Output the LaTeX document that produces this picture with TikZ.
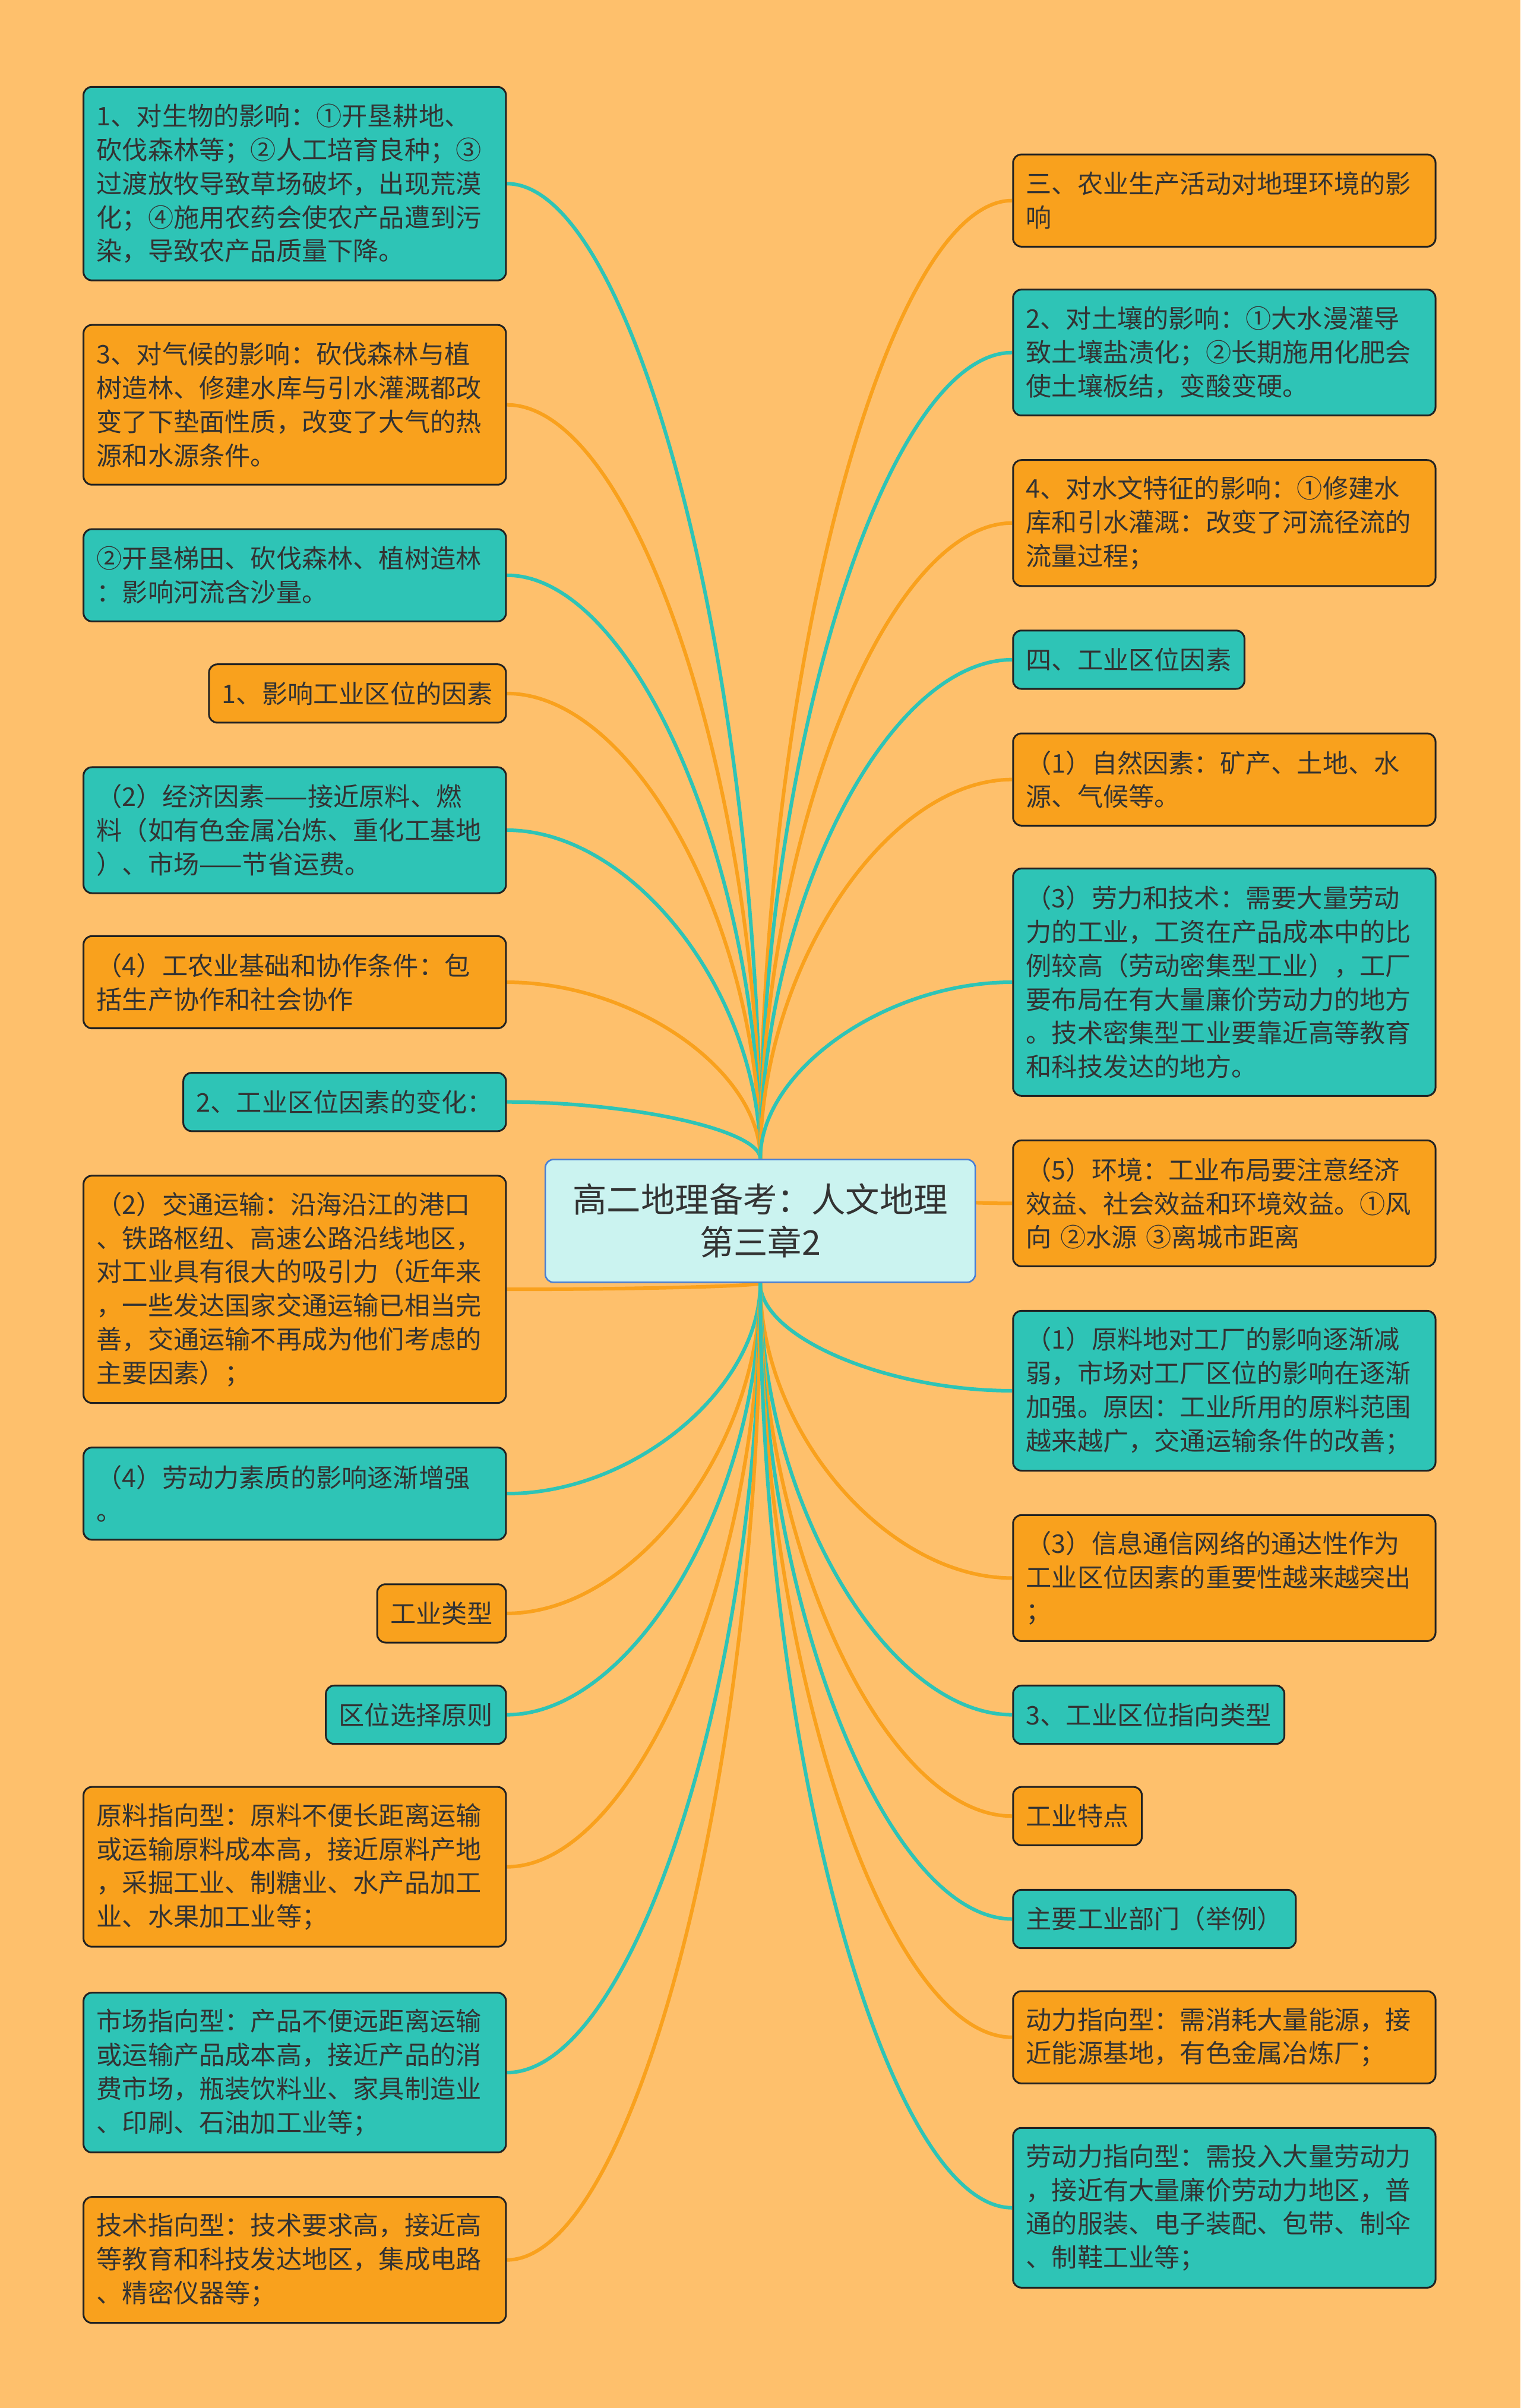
\documentclass[tikz,border=0pt]{standalone}
\usepackage{fontspec}
\setmainfont{Noto Sans CJK SC}
\usetikzlibrary{calc}
\definecolor{bgc}{HTML}{FEC06C}
\definecolor{orgc}{HTML}{F9A11D}
\definecolor{tealc}{HTML}{2EC4B6}
\definecolor{bordc}{HTML}{222222}
\definecolor{txtc}{HTML}{333333}
\definecolor{cfill}{HTML}{CBF3F0}
\definecolor{cbord}{HTML}{4A7FD4}
\pgfdeclarelayer{bg}
\pgfsetlayers{bg,main}
\setlength{\parindent}{0pt}
\begin{document}
\begin{tikzpicture}[x=1.2929pt,y=-1.2929pt,
  box/.style={draw=bordc, line width=1.5pt, rounded corners=7pt, inner xsep=11pt, inner ysep=1pt,
    font=\fontsize{21.6pt}{28.4pt}\selectfont, text=txtc, align=left},
  tbox/.style={box, fill=tealc},
  obox/.style={box, fill=orgc},
  wide/.style={text width=333.6pt},
  lft/.style={anchor=north east},
  rgt/.style={anchor=north west},
  hA/.style={minimum height=49.1pt},
  hB/.style={minimum height=77.6pt},
  hC/.style={minimum height=106.0pt},
  hD/.style={minimum height=134.5pt},
  hE/.style={minimum height=162.9pt},
  hF/.style={minimum height=191.3pt},
  cbox/.style={draw=cbord, fill=cfill, line width=1.3pt, rounded corners=7pt,
    minimum width=362pt, minimum height=103.4pt, align=center, text=txtc,
    font=\fontsize{28.7pt}{36pt}\selectfont},
  conn/.style={line width=3pt}
]
\useasboundingbox (0,0) rectangle (990,1568);

% centre
\node[cbox] (c) at (495,795) {高二地理备考：人文地理\\第三章2};

% left column
\node[tbox,wide,hE,lft] (l1) at (330,56) {1、对生物的影响：①开垦耕地、\\砍伐森林等；②人工培育良种；③\\过渡放牧导致草场破坏，出现荒漠\\化；④施用农药会使农产品遭到污\\染，导致农产品质量下降。};
\node[obox,wide,hD,lft] (l2) at (330,211) {3、对气候的影响：砍伐森林与植\\树造林、修建水库与引水灌溉都改\\变了下垫面性质，改变了大气的热\\源和水源条件。};
\node[tbox,wide,hB,lft] (l3) at (330,344) {②开垦梯田、砍伐森林、植树造林\\：影响河流含沙量。};
\node[obox,hA,lft] (l4) at (330,432) {1、影响工业区位的因素};
\node[tbox,wide,hC,lft] (l5) at (330,499) {（2）经济因素——接近原料、燃\\料（如有色金属冶炼、重化工基地\\）、市场——节省运费。};
\node[obox,wide,hB,lft] (l6) at (330,609) {（4）工农业基础和协作条件：包\\括生产协作和社会协作};
\node[tbox,hA,lft] (l7) at (330,698) {2、工业区位因素的变化：};
\node[obox,wide,hF,lft] (l8) at (330,765) {（2）交通运输：沿海沿江的港口\\、铁路枢纽、高速公路沿线地区，\\对工业具有很大的吸引力（近年来\\，一些发达国家交通运输已相当完\\善，交通运输不再成为他们考虑的\\主要因素）；};
\node[tbox,wide,hB,lft] (l9) at (330,942) {（4）劳动力素质的影响逐渐增强\\。};
\node[obox,hA,lft] (l10) at (330,1031) {工业类型};
\node[tbox,hA,lft] (l11) at (330,1097) {区位选择原则};
\node[obox,wide,hD,lft] (l12) at (330,1163) {原料指向型：原料不便长距离运输\\或运输原料成本高，接近原料产地\\，采掘工业、制糖业、水产品加工\\业、水果加工业等；};
\node[tbox,wide,hD,lft] (l13) at (330,1297) {市场指向型：产品不便远距离运输\\或运输产品成本高，接近产品的消\\费市场，瓶装饮料业、家具制造业\\、印刷、石油加工业等；};
\node[obox,wide,hC,lft] (l14) at (330,1430) {技术指向型：技术要求高，接近高\\等教育和科技发达地区，集成电路\\、精密仪器等；};

% right column
\node[obox,wide,hB,rgt] (r1) at (659,100) {三、农业生产活动对地理环境的影\\响};
\node[tbox,wide,hC,rgt] (r2) at (659,188) {2、对土壤的影响：①大水漫灌导\\致土壤盐渍化；②长期施用化肥会\\使土壤板结，变酸变硬。};
\node[obox,wide,hC,rgt] (r3) at (659,299) {4、对水文特征的影响：①修建水\\库和引水灌溉：改变了河流径流的\\流量过程；};
\node[tbox,hA,rgt] (r4) at (659,410) {四、工业区位因素};
\node[obox,wide,hB,rgt] (r5) at (659,477) {（1）自然因素：矿产、土地、水\\源、气候等。};
\node[tbox,wide,hF,rgt] (r6) at (659,565) {（3）劳力和技术：需要大量劳动\\力的工业，工资在产品成本中的比\\例较高（劳动密集型工业），工厂\\要布局在有大量廉价劳动力的地方\\。技术密集型工业要靠近高等教育\\和科技发达的地方。};
\node[obox,wide,hC,rgt] (r7) at (659,742) {（5）环境：工业布局要注意经济\\效益、社会效益和环境效益。①风\\向 ②水源 ③离城市距离};
\node[tbox,wide,hD,rgt] (r8) at (659,853) {（1）原料地对工厂的影响逐渐减\\弱，市场对工厂区位的影响在逐渐\\加强。原因：工业所用的原料范围\\越来越广，交通运输条件的改善；};
\node[obox,wide,hC,rgt] (r9) at (659,986) {（3）信息通信网络的通达性作为\\工业区位因素的重要性越来越突出\\；};
\node[tbox,hA,rgt] (r10) at (659,1097) {3、工业区位指向类型};
\node[obox,hA,rgt] (r11) at (659,1163) {工业特点};
\node[tbox,hA,rgt] (r12) at (659,1230) {主要工业部门（举例）};
\node[obox,wide,hB,rgt] (r13) at (659,1296) {动力指向型：需消耗大量能源，接\\近能源基地，有色金属冶炼厂；};
\node[tbox,wide,hD,rgt] (r14) at (659,1385) {劳动力指向型：需投入大量劳动力\\，接近有大量廉价劳动力地区，普\\通的服装、电子装配、包带、制伞\\、制鞋工业等；};

\begin{pgfonlayer}{bg}
\fill[bgc] (0,0) rectangle (990,1568);
\foreach \n/\a/\s/\col in {
  l1/east/north/tealc, l2/east/north/orgc, l3/east/north/tealc, l4/east/north/orgc,
  l5/east/north/tealc, l6/east/north/orgc, l7/east/north/tealc, l8/east/south/orgc,
  l9/east/south/tealc, l10/east/south/orgc, l11/east/south/tealc, l12/east/south/orgc,
  l13/east/south/tealc, l14/east/south/orgc,
  r1/west/north/orgc, r2/west/north/tealc, r3/west/north/orgc, r4/west/north/tealc,
  r5/west/north/orgc, r6/west/north/tealc, r7/west/north/orgc, r8/west/south/tealc,
  r9/west/south/orgc, r10/west/south/tealc, r11/west/south/orgc, r12/west/south/tealc,
  r13/west/south/orgc, r14/west/south/tealc}{
  \coordinate (m) at ($(c.\s)!0.5!(\n.\a)$);
  \draw[conn, draw=\col] (c.\s) .. controls (c.\s |- m) and (m |- \n.\a) .. (\n.\a);
}
\end{pgfonlayer}
\end{tikzpicture}
\end{document}
